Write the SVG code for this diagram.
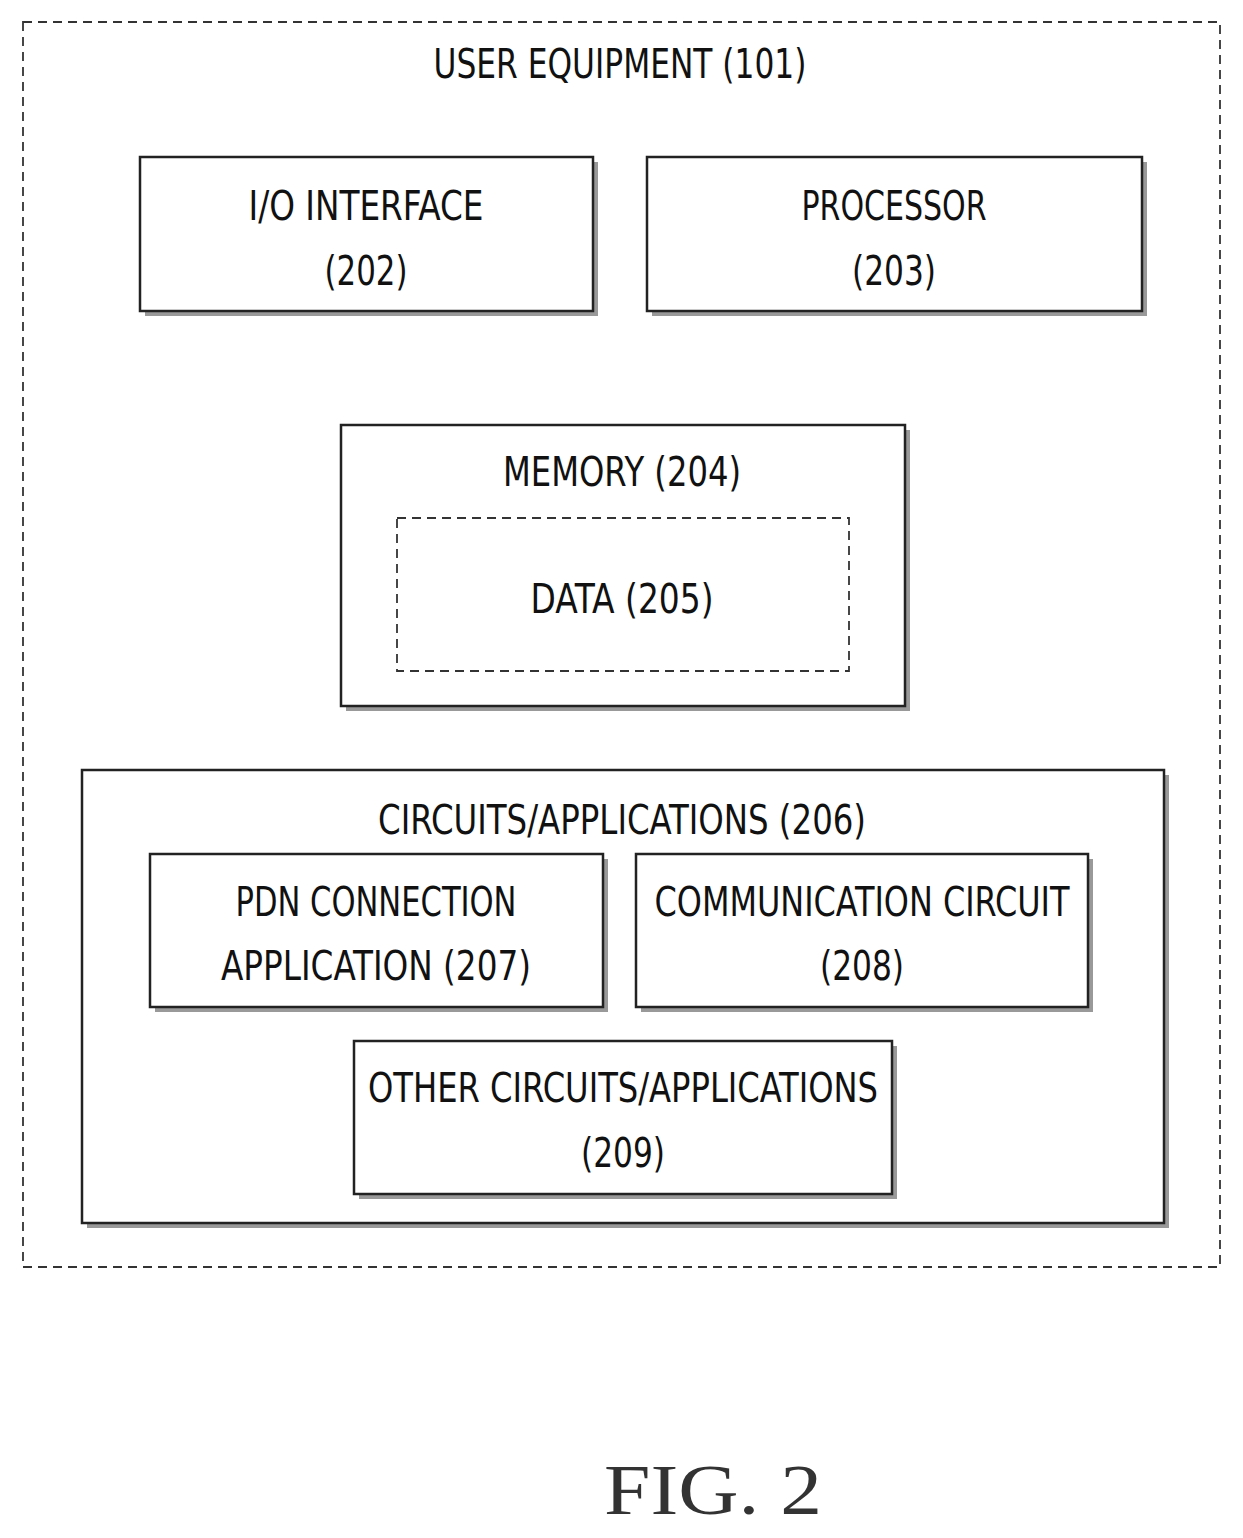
<svg xmlns="http://www.w3.org/2000/svg" width="1243" height="1538" viewBox="0 0 1243 1538">
<style>
.b{fill:#fff;stroke:#222;stroke-width:2.5}
.s{fill:#999}
.d{fill:none;stroke:#333;stroke-width:1.8;stroke-dasharray:9 6}
text{font-family:"DejaVu Sans Condensed","Liberation Sans",sans-serif;font-size:40px;fill:#111;text-anchor:middle}
</style>
<rect width="1243" height="1538" fill="#fff"/>
<g id="ue"><rect class="d" x="23" y="22" width="1197" height="1245"/>
<text x="620" y="78" textLength="373" lengthAdjust="spacingAndGlyphs">USER EQUIPMENT (101)</text></g>
<g id="io"><rect class="s" x="145" y="162" width="453" height="154"/><rect class="b" x="140" y="157" width="453" height="154"/>
<text x="366" y="220" textLength="235" lengthAdjust="spacingAndGlyphs">I/O INTERFACE</text>
<text x="366" y="285" textLength="83" lengthAdjust="spacingAndGlyphs">(202)</text></g>
<g id="proc"><rect class="s" x="652" y="162" width="495" height="154"/><rect class="b" x="647" y="157" width="495" height="154"/>
<text x="894" y="220" textLength="185" lengthAdjust="spacingAndGlyphs">PROCESSOR</text>
<text x="894" y="285" textLength="84" lengthAdjust="spacingAndGlyphs">(203)</text></g>
<g id="mem"><rect class="s" x="346" y="430" width="564" height="281"/><rect class="b" x="341" y="425" width="564" height="281"/>
<text x="622" y="486" textLength="238" lengthAdjust="spacingAndGlyphs">MEMORY (204)</text></g>
<g id="data"><rect class="d" x="397" y="518" width="452" height="153"/>
<text x="622" y="613" textLength="183" lengthAdjust="spacingAndGlyphs">DATA (205)</text></g>
<g id="circ"><rect class="s" x="87" y="775" width="1082" height="453"/><rect class="b" x="82" y="770" width="1082" height="453"/>
<text x="622" y="834" textLength="488" lengthAdjust="spacingAndGlyphs">CIRCUITS/APPLICATIONS (206)</text></g>
<g id="pdn"><rect class="s" x="155" y="859" width="453" height="153"/><rect class="b" x="150" y="854" width="453" height="153"/>
<text x="376" y="916" textLength="281" lengthAdjust="spacingAndGlyphs">PDN CONNECTION</text>
<text x="376" y="980" textLength="310" lengthAdjust="spacingAndGlyphs">APPLICATION (207)</text></g>
<g id="comm"><rect class="s" x="641" y="859" width="452" height="153"/><rect class="b" x="636" y="854" width="452" height="153"/>
<text x="862" y="916" textLength="415" lengthAdjust="spacingAndGlyphs">COMMUNICATION CIRCUIT</text>
<text x="862" y="980" textLength="84" lengthAdjust="spacingAndGlyphs">(208)</text></g>
<g id="other"><rect class="s" x="359" y="1046" width="538" height="153"/><rect class="b" x="354" y="1041" width="538" height="153"/>
<text x="623" y="1102" textLength="510" lengthAdjust="spacingAndGlyphs">OTHER CIRCUITS/APPLICATIONS</text>
<text x="623" y="1167" textLength="84" lengthAdjust="spacingAndGlyphs">(209)</text></g>
<g id="connectors"></g>
<text x="713" y="1514" style="font-family:'Liberation Serif',serif;font-size:72px;fill:#333" textLength="218" lengthAdjust="spacingAndGlyphs">FIG. 2</text>
</svg>
